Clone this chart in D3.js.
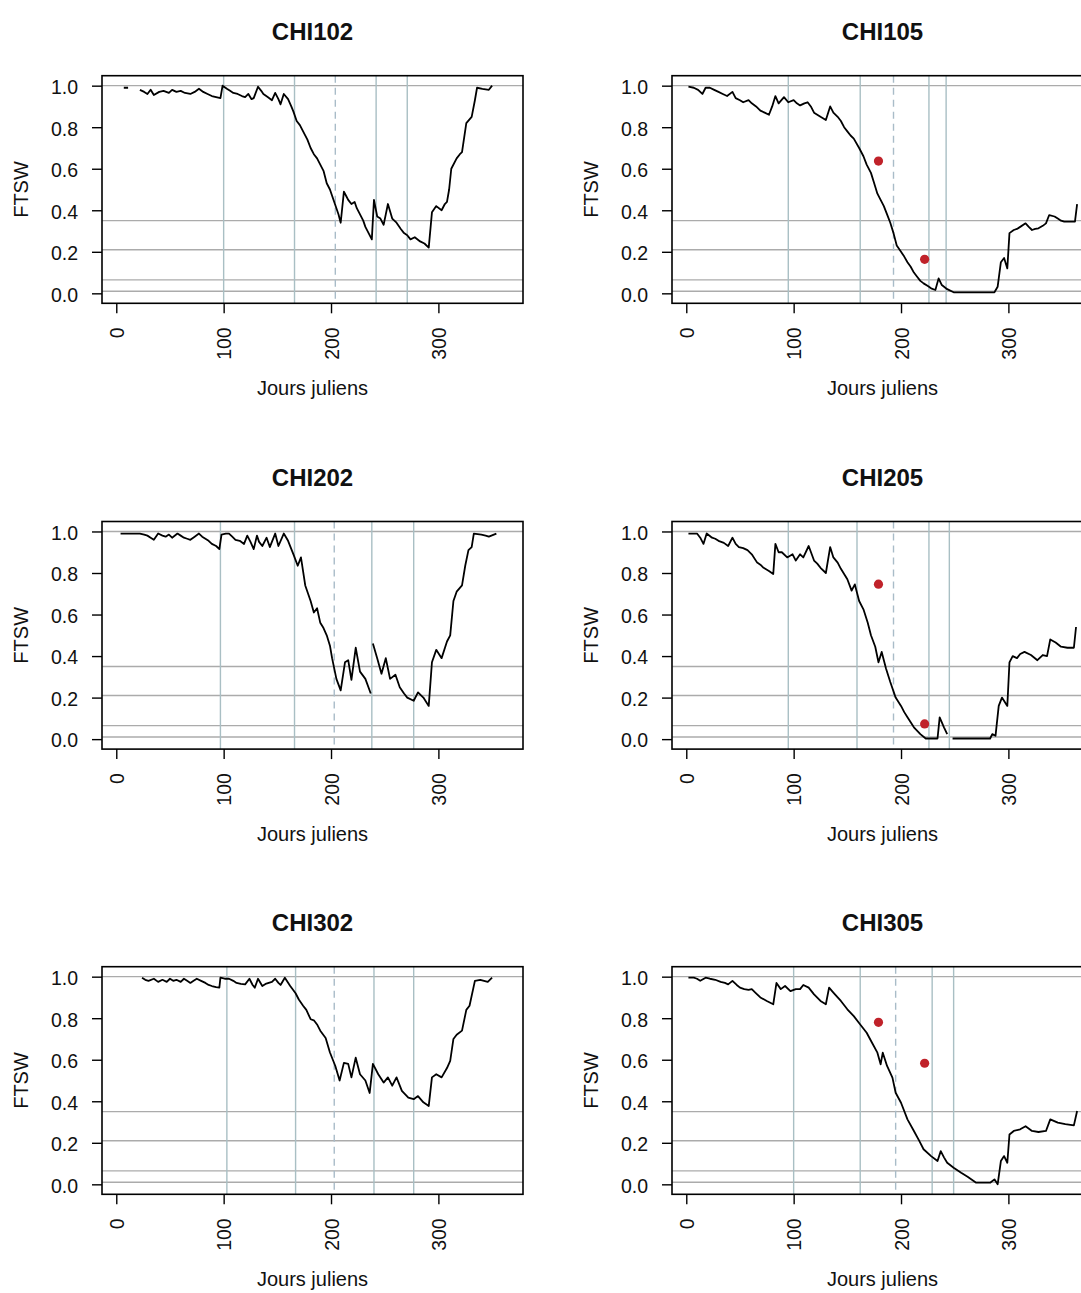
<!DOCTYPE html>
<html>
<head>
<meta charset="utf-8">
<script src="https://cdn.jsdelivr.net/npm/d3@7"></script>
<style>
  html, body { margin: 0; padding: 0; background: #fff; }
  svg { display: block; }
  text { font-family: "Liberation Sans", Arial, sans-serif; fill: #111; }
</style>
</head>
<body>
<svg id="chart" width="1081" height="1293"></svg>
<script>
// ---------------- DATA ----------------
const panelNames = ["CHI102", "CHI105", "CHI202", "CHI205", "CHI302", "CHI305"];

const xTicks = [0, 100, 200, 300];
const yTicks = [0, 0.2, 0.4, 0.6, 0.8, 1.0];
const hLines = [1.0, 0.35, 0.21, 0.065, 0.01];

// CHI102
const chi102Days = [7, 11, 15, 22, 26, 29, 32, 35, 40, 44, 49, 52, 56, 60, 64, 69, 73, 77, 81, 85, 89, 93, 97, 99, 103, 106, 109, 113, 117, 120, 123, 126, 128, 132, 135, 137, 141, 145, 148, 151, 153, 156, 160, 163, 165, 168, 171, 174, 178, 181, 184, 187, 190, 193, 196, 199, 201, 203, 205, 207, 209, 212, 214, 216, 219, 222, 224, 227, 230, 232, 235, 238, 240, 243, 246, 249, 251, 253, 257, 261, 265, 268, 271, 274, 278, 283, 287, 291, 294, 298, 303, 306, 308, 310, 312, 317, 320, 322, 326, 331, 334, 336, 341, 347, 350];
const chi102Ftsw = [0.99, 0.99, null, 0.98, 0.97, 0.96, 0.98, 0.955, 0.97, 0.975, 0.965, 0.98, 0.97, 0.975, 0.965, 0.96, 0.97, 0.985, 0.97, 0.96, 0.95, 0.945, 0.94, 1.0, 0.985, 0.975, 0.965, 0.96, 0.95, 0.945, 0.96, 0.935, 0.94, 0.995, 0.975, 0.96, 0.945, 0.93, 0.965, 0.935, 0.91, 0.96, 0.935, 0.9, 0.875, 0.83, 0.81, 0.78, 0.74, 0.7, 0.67, 0.65, 0.62, 0.59, 0.53, 0.5, 0.47, 0.44, 0.41, 0.38, 0.34, 0.49, 0.47, 0.45, 0.43, 0.44, 0.41, 0.38, 0.35, 0.32, 0.29, 0.26, 0.45, 0.37, 0.36, 0.33, 0.38, 0.43, 0.36, 0.34, 0.31, 0.29, 0.28, 0.26, 0.27, 0.25, 0.24, 0.22, 0.39, 0.42, 0.4, 0.43, 0.44, 0.5, 0.6, 0.65, 0.67, 0.68, 0.82, 0.85, 0.93, 0.99, 0.985, 0.98, 1.0];

// CHI105
const chi105Days = [2, 7, 11, 15, 18, 22, 26, 30, 34, 38, 43, 46, 50, 53, 58, 61, 65, 69, 73, 77, 80, 83, 86, 91, 95, 100, 103, 106, 110, 113, 116, 119, 122, 125, 130, 134, 137, 141, 144, 147, 150, 153, 156, 161, 165, 168, 172, 175, 178, 181, 184, 187, 190, 193, 196, 200, 203, 206, 209, 212, 215, 218, 221, 225, 228, 232, 235, 238, 243, 249, 260, 270, 280, 287, 290, 293, 296, 299, 301, 305, 308, 311, 316, 319, 322, 325, 328, 332, 335, 338, 343, 346, 349, 352, 356, 361, 362, 364];
const chi105Ftsw = [0.995, 0.99, 0.98, 0.96, 0.99, 0.99, 0.98, 0.97, 0.96, 0.95, 0.97, 0.94, 0.93, 0.92, 0.93, 0.915, 0.9, 0.88, 0.87, 0.86, 0.9, 0.95, 0.915, 0.945, 0.92, 0.93, 0.915, 0.905, 0.915, 0.92, 0.9, 0.87, 0.86, 0.85, 0.835, 0.9, 0.87, 0.85, 0.83, 0.8, 0.78, 0.76, 0.745, 0.7, 0.66, 0.62, 0.58, 0.53, 0.48, 0.45, 0.42, 0.38, 0.34, 0.29, 0.23, 0.2, 0.177, 0.15, 0.128, 0.1, 0.08, 0.06, 0.048, 0.035, 0.024, 0.016, 0.072, 0.04, 0.02, 0.005, 0.005, 0.005, 0.005, 0.005, 0.032, 0.15, 0.17, 0.12, 0.29, 0.305, 0.31, 0.32, 0.337, 0.32, 0.305, 0.31, 0.313, 0.325, 0.337, 0.377, 0.37, 0.36, 0.35, 0.345, 0.345, 0.345, 0.345, 0.43];

// CHI202
const chi202Days = [4, 11, 17, 22, 26, 29, 32, 35, 39, 43, 46, 49, 52, 57, 60, 63, 66, 69, 73, 77, 80, 83, 86, 89, 93, 96, 98, 102, 105, 108, 111, 115, 119, 122, 125, 128, 131, 133, 136, 140, 143, 148, 151, 156, 160, 165, 169, 172, 176, 181, 184, 187, 190, 193, 196, 199, 201, 205, 209, 213, 216, 219, 223, 227, 232, 237, 238, 239, 243, 247, 251, 255, 260, 264, 268, 271, 277, 281, 286, 291, 294, 298, 303, 308, 311, 314, 317, 322, 325, 328, 331, 333, 340, 344, 347, 354];
const chi202Ftsw = [0.99, 0.99, 0.99, 0.99, 0.985, 0.98, 0.97, 0.96, 0.99, 0.98, 0.975, 0.985, 0.97, 0.99, 0.98, 0.97, 0.965, 0.96, 0.975, 0.99, 0.975, 0.965, 0.955, 0.94, 0.93, 0.915, 0.985, 0.99, 0.99, 0.975, 0.96, 0.955, 0.94, 0.98, 0.95, 0.915, 0.98, 0.95, 0.93, 0.97, 0.925, 0.99, 0.93, 0.99, 0.955, 0.89, 0.835, 0.875, 0.74, 0.665, 0.61, 0.63, 0.56, 0.535, 0.5, 0.45, 0.39, 0.29, 0.235, 0.37, 0.38, 0.285, 0.44, 0.325, 0.29, 0.22, null, 0.46, 0.39, 0.315, 0.39, 0.29, 0.31, 0.25, 0.22, 0.2, 0.185, 0.225, 0.2, 0.16, 0.37, 0.43, 0.39, 0.47, 0.5, 0.665, 0.71, 0.74, 0.835, 0.91, 0.925, 0.99, 0.985, 0.98, 0.975, 0.99];

// CHI205
const chi205Days = [2, 7, 10, 13, 16, 19, 24, 27, 30, 35, 39, 43, 46, 49, 53, 57, 61, 66, 69, 72, 77, 81, 83, 86, 89, 94, 99, 102, 106, 109, 114, 119, 122, 125, 130, 134, 137, 141, 144, 150, 154, 157, 161, 165, 169, 172, 176, 179, 182, 186, 190, 195, 200, 203, 206, 212, 218, 223, 228, 234, 236, 240, 243, 246, 248, 260, 270, 283, 285, 288, 291, 294, 299, 301, 304, 308, 311, 315, 321, 327, 332, 336, 339, 344, 349, 355, 361, 363];
const chi205Ftsw = [0.99, 0.99, 0.99, 0.97, 0.94, 0.99, 0.97, 0.965, 0.955, 0.945, 0.93, 0.97, 0.94, 0.925, 0.92, 0.91, 0.89, 0.85, 0.84, 0.825, 0.81, 0.795, 0.94, 0.9, 0.9, 0.875, 0.89, 0.86, 0.89, 0.875, 0.93, 0.86, 0.845, 0.825, 0.8, 0.925, 0.875, 0.85, 0.82, 0.77, 0.715, 0.745, 0.665, 0.625, 0.56, 0.5, 0.445, 0.37, 0.42, 0.34, 0.275, 0.2, 0.16, 0.13, 0.105, 0.057, 0.024, 0.003, 0.003, 0.003, 0.105, 0.057, 0.024, null, 0.003, 0.003, 0.003, 0.003, 0.024, 0.016, 0.16, 0.2, 0.16, 0.37, 0.4, 0.39, 0.41, 0.42, 0.405, 0.38, 0.405, 0.4, 0.48, 0.465, 0.445, 0.44, 0.44, 0.54];

// CHI302
const chi302Days = [10, 12, 24, 27, 30, 35, 39, 43, 47, 50, 53, 56, 60, 63, 66, 69, 72, 75, 79, 83, 86, 89, 93, 96, 97, 101, 105, 109, 112, 116, 120, 124, 127, 129, 132, 136, 139, 142, 145, 148, 151, 153, 157, 162, 167, 170, 174, 177, 181, 184, 187, 190, 195, 199, 204, 208, 212, 216, 219, 223, 227, 232, 236, 239, 244, 249, 253, 257, 261, 266, 272, 277, 281, 286, 291, 294, 298, 303, 308, 311, 314, 317, 322, 326, 329, 334, 339, 346, 350];
const chi302Ftsw = [0.995, null, 0.995, 0.985, 0.98, 0.99, 0.975, 0.985, 0.975, 0.99, 0.98, 0.985, 0.975, 0.99, 0.98, 0.97, 0.98, 0.99, 0.98, 0.97, 0.96, 0.955, 0.95, 0.947, 0.995, 0.99, 0.99, 0.98, 0.97, 0.965, 0.963, 0.99, 0.96, 0.947, 0.99, 0.955, 0.965, 0.97, 0.975, 0.99, 0.97, 0.96, 0.995, 0.955, 0.92, 0.89, 0.86, 0.84, 0.795, 0.79, 0.77, 0.74, 0.705, 0.635, 0.57, 0.5, 0.585, 0.58, 0.515, 0.61, 0.53, 0.5, 0.44, 0.58, 0.53, 0.49, 0.515, 0.475, 0.515, 0.45, 0.417, 0.41, 0.425, 0.395, 0.377, 0.515, 0.53, 0.515, 0.56, 0.595, 0.7, 0.72, 0.74, 0.84, 0.86, 0.98, 0.985, 0.975, 0.995];

// CHI305
const chi305Days = [2, 7, 10, 13, 18, 22, 27, 32, 36, 39, 43, 47, 50, 54, 58, 61, 65, 69, 75, 81, 84, 88, 92, 97, 102, 106, 109, 114, 119, 125, 130, 133, 137, 141, 144, 150, 156, 162, 168, 173, 178, 181, 183, 187, 192, 195, 200, 206, 212, 217, 221, 228, 234, 237, 240, 243, 249, 256, 262, 270, 283, 287, 290, 293, 296, 299, 301, 305, 311, 316, 322, 328, 335, 339, 346, 353, 361, 364];
const chi305Ftsw = [0.995, 0.995, 0.99, 0.98, 0.995, 0.99, 0.985, 0.975, 0.97, 0.963, 0.98, 0.96, 0.947, 0.94, 0.936, 0.94, 0.92, 0.9, 0.883, 0.867, 0.97, 0.94, 0.955, 0.93, 0.94, 0.94, 0.96, 0.947, 0.915, 0.883, 0.867, 0.947, 0.923, 0.9, 0.883, 0.843, 0.81, 0.77, 0.73, 0.682, 0.634, 0.578, 0.634, 0.57, 0.514, 0.441, 0.393, 0.313, 0.257, 0.209, 0.169, 0.136, 0.112, 0.16, 0.13, 0.104, 0.08, 0.056, 0.037, 0.008, 0.008, 0.024, 0.0, 0.112, 0.136, 0.104, 0.24, 0.257, 0.265, 0.28, 0.257, 0.252, 0.257, 0.313, 0.297, 0.29, 0.284, 0.353];

const allDays = [chi102Days, chi105Days, chi202Days, chi205Days, chi302Days, chi305Days];
const allFtsw = [chi102Ftsw, chi105Ftsw, chi202Ftsw, chi205Ftsw, chi302Ftsw, chi305Ftsw];

// vertical reference days (solid) and dashed day per panel
const vLinesSolid = [
  [100, 166, 242, 271],
  [95, 162, 226, 242],
  [97, 166, 238, 277],
  [95, 159, 226, 245],
  [103, 167, 240, 277],
  [100, 162, 229, 249]
];
const vLineDashed = [204, 193, 203, 193, 203, 195];

// observed points (red) for the x05 plots
const obsDays = [null, [179, 222], null, [179, 222], null, [179, 222]];
const obsFtsw = [null, [0.637, 0.164], null, [0.746, 0.073], null, [0.78, 0.583]];

// ---------------- LAYOUT ----------------
const svg = d3.select("#chart");
const colLeft = [102, 672];
const plotW = 421;
const rowTop = [75.7, 521.5, 966.7];
const plotH = 227.6;

panelNames.forEach((name, i) => {
  const col = i % 2, row = Math.floor(i / 2);
  const x0 = colLeft[col], y0 = rowTop[row];
  const g = svg.append("g");

  const x = d3.scaleLinear().domain([-13.3, 378.8]).range([x0, x0 + plotW]);
  const y = d3.scaleLinear().domain([-0.048, 1.048]).range([y0 + plotH, y0]);

  const clipId = "clip" + i;
  svg.append("clipPath").attr("id", clipId)
    .append("rect").attr("x", x0).attr("y", y0).attr("width", plotW).attr("height", plotH);

  const inner = g.append("g").attr("clip-path", `url(#${clipId})`);

  // horizontal reference lines
  inner.selectAll(".hl").data(hLines).join("line")
    .attr("x1", x0).attr("x2", x0 + plotW)
    .attr("y1", d => y(d)).attr("y2", d => y(d))
    .attr("stroke", "#ababab").attr("stroke-width", 1.4);

  // vertical reference lines
  inner.selectAll(".vl").data(vLinesSolid[i]).join("line")
    .attr("x1", d => x(d)).attr("x2", d => x(d))
    .attr("y1", y0).attr("y2", y0 + plotH)
    .attr("stroke", "#a9bfc4").attr("stroke-width", 1.4);
  inner.append("line")
    .attr("x1", x(vLineDashed[i])).attr("x2", x(vLineDashed[i]))
    .attr("y1", y0).attr("y2", y0 + plotH)
    .attr("stroke", "#a9bcc8").attr("stroke-width", 1.4)
    .attr("stroke-dasharray", "7,5");

  // FTSW curve
  const pts = allDays[i].map((d, k) => [d, allFtsw[i][k]]);
  const line = d3.line()
    .defined(p => p[1] !== null && p[1] !== undefined)
    .x(p => x(p[0])).y(p => y(p[1]))
    .curve(d3.curveLinear);
  inner.append("path").datum(pts)
    .attr("fill", "none").attr("stroke", "#000").attr("stroke-width", 1.8)
    .attr("stroke-linejoin", "round")
    .attr("d", line);

  // observed points
  if (obsDays[i]) {
    inner.selectAll(".obs").data(obsDays[i].map((d, k) => [d, obsFtsw[i][k]])).join("circle")
      .attr("cx", p => x(p[0])).attr("cy", p => y(p[1])).attr("r", 4.6)
      .attr("fill", "#c0222a");
  }

  // box
  g.append("rect").attr("x", x0).attr("y", y0).attr("width", plotW).attr("height", plotH)
    .attr("fill", "none").attr("stroke", "#000").attr("stroke-width", 1.6);

  // y axis
  const yAxis = d3.axisLeft(y).tickValues(yTicks).tickFormat(d3.format(".1f"))
    .tickSize(10).tickPadding(14);
  const ya = g.append("g").attr("transform", `translate(${x0},0)`).call(yAxis);
  ya.select(".domain").remove();
  ya.selectAll(".tick line").attr("stroke", "#000").attr("stroke-width", 1.4);
  ya.selectAll(".tick text").attr("font-size", 19.5).attr("dy", "0.4em")
    .style("font-family", "'Liberation Sans', Arial, sans-serif").attr("fill", "#111");

  // x axis
  const xAxis = d3.axisBottom(x).tickValues(xTicks).tickFormat(d3.format("d")).tickSize(10);
  const xa = g.append("g").attr("transform", `translate(0,${y0 + plotH})`).call(xAxis);
  xa.select(".domain").remove();
  xa.selectAll(".tick line").attr("stroke", "#000").attr("stroke-width", 1.4);
  xa.selectAll(".tick text")
    .attr("font-size", 19.5)
    .style("font-family", "'Liberation Sans', Arial, sans-serif").attr("fill", "#111")
    .attr("text-anchor", "end")
    .attr("transform", "rotate(-90)")
    .attr("x", -24).attr("y", 0).attr("dy", "0.36em");

  // axis titles
  g.append("text").attr("x", x0 + plotW / 2).attr("y", y0 + plotH + 92)
    .attr("text-anchor", "middle").attr("font-size", 20).text("Jours juliens");
  g.append("text")
    .attr("transform", `translate(${x0 - 81},${y0 + plotH / 2}) rotate(-90)`)
    .attr("text-anchor", "middle").attr("dy", "0.36em").attr("font-size", 20).text("FTSW");

  // title
  g.append("text").attr("x", x0 + plotW / 2).attr("y", y0 - 36)
    .attr("text-anchor", "middle").attr("font-size", 24).attr("font-weight", "bold")
    .text(name);
});
</script>
</body>
</html>
